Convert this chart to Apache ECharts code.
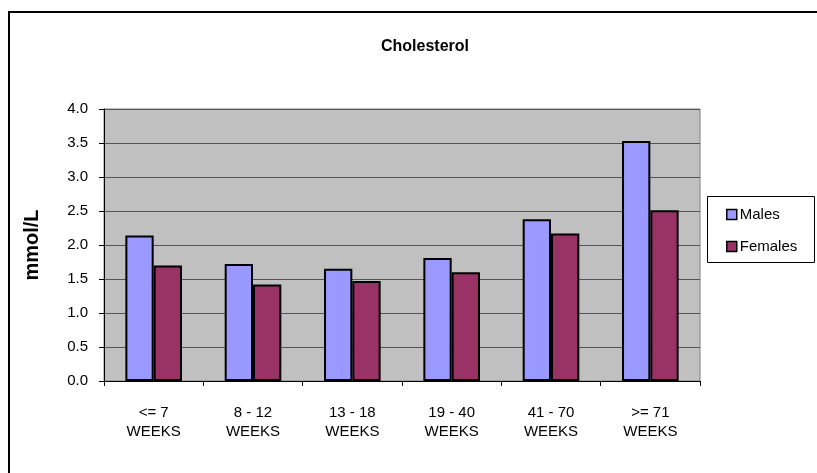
<!DOCTYPE html>
<html>
<head>
<meta charset="utf-8">
<style>
  html, body { margin: 0; padding: 0; background: #ffffff; }
  #chart { width: 817px; height: 473px; }
</style>
<script src="https://cdn.jsdelivr.net/npm/echarts@6/dist/echarts.min.js"></script>
</head>
<body>
<div id="chart"></div>
<script>
// Age bands (two-line labels) and mean cholesterol per sex, mmol/L
const categories = ['<= 7\nWEEKS', '8 - 12\nWEEKS', '13 - 18\nWEEKS', '19 - 40\nWEEKS', '41 - 70\nWEEKS', '>= 71\nWEEKS'];
const males = [2.14, 1.72, 1.65, 1.81, 2.38, 3.53];
const females = [1.70, 1.42, 1.47, 1.60, 2.17, 2.51];
const seriesNames = ['Males', 'Females'];
const yTicks = { min: 0, max: 4, interval: 0.5 };

const FONT = '"Liberation Sans", Arial, sans-serif';

const chart = echarts.init(document.getElementById('chart'), null, { renderer: 'canvas' });

chart.setOption({
  backgroundColor: '#ffffff',
  animation: false,
  title: {
    text: 'Cholesterol',
    left: 381,
    top: 39,
    padding: 0,
    textStyle: { fontFamily: FONT, fontSize: 16, fontWeight: 'bold', color: '#000' }
  },
  graphic: [
    {
      // outer chart frame
      type: 'rect',
      shape: { x: 9, y: 12, width: 900, height: 600 },
      style: { fill: 'none', stroke: '#000', lineWidth: 2 },
      z: 0
    },
    {
      // legend box
      type: 'rect',
      shape: { x: 707.5, y: 196.5, width: 107, height: 66 },
      style: { fill: '#fff', stroke: '#000', lineWidth: 1 },
      z: 1
    }
  ],
  legend: {
    data: seriesNames,
    orient: 'vertical',
    left: 726,
    top: 207,
    padding: 0,
    itemGap: 17,
    itemWidth: 10,
    itemHeight: 10,
    icon: 'rect',
    itemStyle: { borderColor: '#000', borderWidth: 1.5 },
    textStyle: { fontFamily: FONT, fontSize: 15, color: '#000', padding: [0, 0, 0, -2] },
    z: 5
  },
  grid: {
    left: 104,
    right: 117,
    top: 109,
    bottom: 92,
    show: true,
    backgroundColor: '#c0c0c0',
    borderColor: '#808080',
    borderWidth: 1
  },
  xAxis: {
    type: 'category',
    data: categories,
    axisLine: { show: true, lineStyle: { color: '#000', width: 1 } },
    axisTick: { show: true, alignWithLabel: false, length: 5, lineStyle: { color: '#000' } },
    axisLabel: {
      interval: 0,
      margin: 22,
      fontFamily: FONT,
      fontSize: 15,
      lineHeight: 19,
      color: '#000'
    },
    splitLine: { show: false }
  },
  yAxis: {
    type: 'value',
    min: yTicks.min,
    max: yTicks.max,
    interval: yTicks.interval,
    name: 'mmol/L',
    nameLocation: 'middle',
    nameRotate: 90,
    nameGap: 62,
    nameTextStyle: { fontFamily: FONT, fontSize: 20, fontWeight: 'bold', color: '#000' },
    axisLine: { show: true, lineStyle: { color: '#000', width: 1 } },
    axisTick: { show: true, length: 5, lineStyle: { color: '#000' } },
    axisLabel: {
      margin: 16,
      fontFamily: FONT,
      fontSize: 15,
      color: '#000',
      formatter: v => v.toFixed(1)
    },
    splitLine: { show: true, lineStyle: { color: '#555', width: 1 } }
  },
  series: [
    {
      name: seriesNames[0],
      type: 'bar',
      data: males,
      barGap: '0%',
      barCategoryGap: '43%',
      itemStyle: { color: '#9999ff', borderColor: '#000', borderWidth: 2 }
    },
    {
      name: seriesNames[1],
      type: 'bar',
      data: females,
      barGap: '0%',
      barCategoryGap: '43%',
      itemStyle: { color: '#993366', borderColor: '#000', borderWidth: 2 }
    }
  ]
});
</script>
</body>
</html>
